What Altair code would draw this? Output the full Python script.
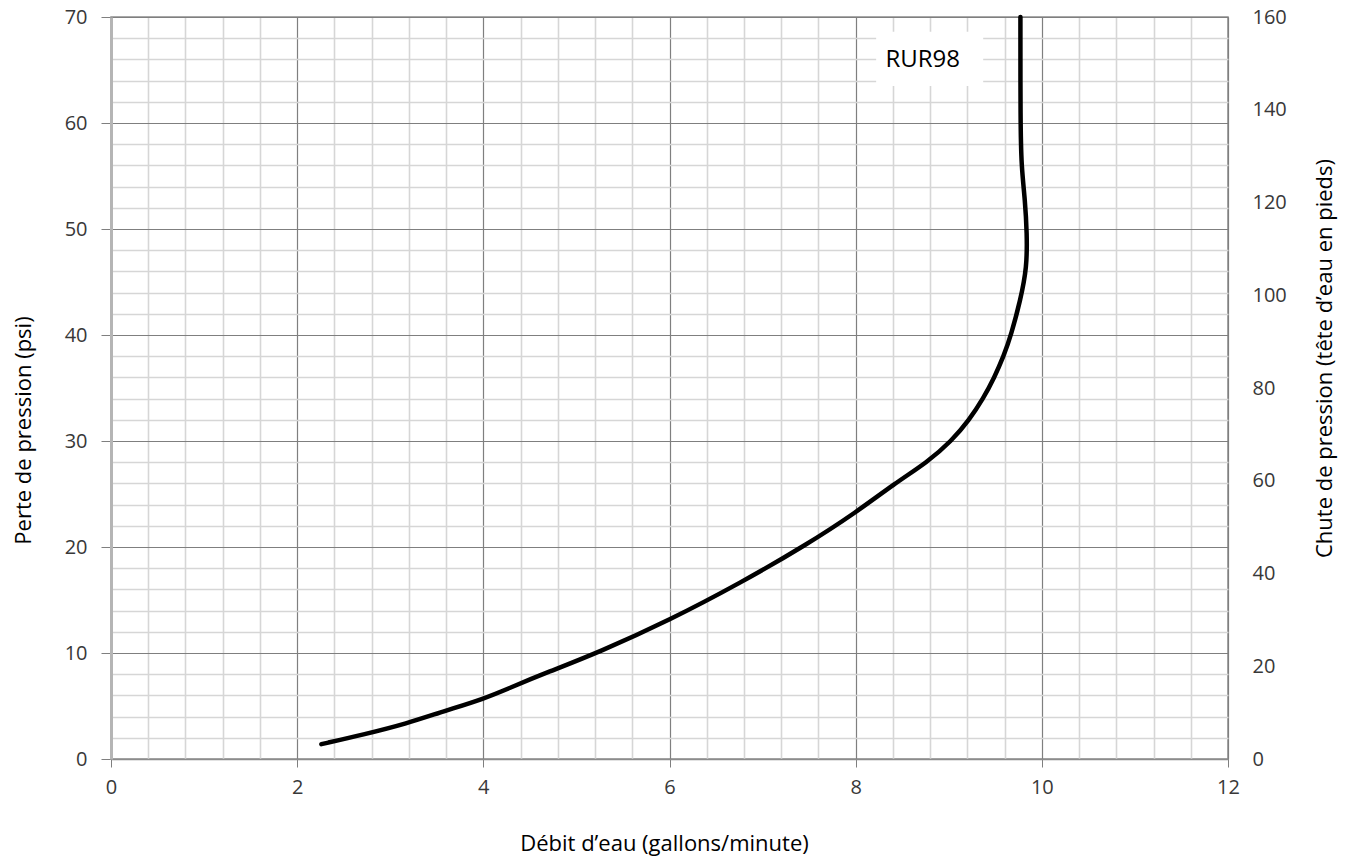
import altair as alt
import pandas as pd

# Curve (flow in gallons/minute vs pressure loss in psi)
flow_gpm = [2.26, 2.71, 3.18, 3.57, 4.0, 4.32, 4.68, 5.25, 6.0, 6.76, 7.47, 8.01,
            8.42, 8.77, 9.03, 9.22, 9.37, 9.49, 9.59, 9.67, 9.77, 9.84, 9.84, 9.82,
            9.78, 9.77, 9.77]
loss_psi = [1.4, 2.3, 3.35, 4.5, 5.65, 6.85, 8.15, 10.1, 13.1, 16.6, 20.2, 23.3,
            26.0, 28.0, 30.0, 32.0, 34.0, 36.0, 38.0, 40.0, 43.3, 46.4, 49.6, 52.7,
            55.9, 60.0, 70.0]

# Axis ticks
x_ticks = [round(i * 0.4, 1) for i in range(31)]      # 0 .. 12, minor every 0.4
y_ticks = list(range(0, 71, 2))                         # 0 .. 70, minor every 2
head_ticks = list(range(0, 161, 20))                    # right axis, feet of water

# Series label
label_text = ["RUR98"]
label_x = [8.72]
label_y = [65.9]
label_box_x = [8.22]
label_box_x2 = [9.37]
label_box_y = [63.5]
label_box_y2 = [68.6]

FONT = "Open Sans"
MAJOR = "#7f7f7f"
MINOR = "#d6d6d6"

curve = pd.DataFrame({"flow": flow_gpm, "psi": loss_psi, "idx": range(len(flow_gpm))})
lab = pd.DataFrame({"t": label_text, "flow": label_x, "psi": label_y,
                    "bx": label_box_x, "bx2": label_box_x2,
                    "by": label_box_y, "by2": label_box_y2})
right = pd.DataFrame({"ft": head_ticks})

x_major = "abs(datum.value - round(datum.value / 2) * 2) < 0.01"
y_major = "abs(datum.value - round(datum.value / 10) * 10) < 0.01"

x_scale = alt.Scale(domain=[0, 12], nice=False, zero=False)
y_scale = alt.Scale(domain=[0, 70], nice=False, zero=False)

x_enc = alt.X(
    "flow:Q",
    scale=x_scale,
    axis=alt.Axis(
        values=x_ticks, tickCount=200,
        labelExpr=f"{x_major} ? format(datum.value, 'd') : ''",
        labelFlush=False, labelOverlap=False,
        grid=True,
        gridColor={"condition": {"test": x_major, "value": MAJOR}, "value": MINOR},
        gridWidth={"condition": {"test": x_major, "value": 1.2}, "value": 1.6},
        tickSize={"condition": {"test": x_major, "value": 8}, "value": 0},
        tickColor=MAJOR, domainColor="#8c8c8c", domainWidth=1.5,
        labelFont=FONT, labelFontSize=20, labelColor="#383838", labelPadding=10,
        title="Débit d\u2019eau (gallons/minute)",
        titleFont=FONT, titleFontSize=22, titleFontWeight="normal", titleColor="#000000",
        titleX=553, titleY=84, titleBaseline="middle", titleAlign="center",
    ),
)

y_enc = alt.Y(
    "psi:Q",
    scale=y_scale,
    axis=alt.Axis(
        values=y_ticks, tickCount=200,
        labelExpr=f"{y_major} ? format(datum.value, 'd') : ''",
        labelOverlap=False, labelFlush=False,
        grid=True,
        gridColor={"condition": {"test": y_major, "value": MAJOR}, "value": MINOR},
        gridWidth={"condition": {"test": y_major, "value": 1.2}, "value": 1.6},
        tickSize={"condition": {"test": y_major, "value": 10}, "value": 0},
        tickColor=MAJOR, domainColor="#b5b5b5", domainWidth=3,
        labelFont=FONT, labelFontSize=20, labelColor="#383838", labelPadding=14,
        title="Perte de pression (psi)",
        titleFont=FONT, titleFontSize=22, titleFontWeight="normal", titleColor="#000000",
        titleX=-88, titleY=413, titleAngle=270, titleBaseline="middle", titleAlign="center",
    ),
)

line = alt.Chart(curve).mark_line(
    color="#000000", strokeWidth=4.5, interpolate="basis", strokeCap="round"
).encode(x=x_enc, y=y_enc, order="idx:Q")

box = alt.Chart(lab).mark_rect(color="#ffffff").encode(
    x=alt.X("bx:Q", scale=x_scale), x2="bx2",
    y=alt.Y("by:Q", scale=y_scale), y2="by2",
)
txt = alt.Chart(lab).mark_text(font=FONT, fontSize=24, color="#000000").encode(
    x=alt.X("flow:Q", scale=x_scale), y=alt.Y("psi:Q", scale=y_scale), text="t:N"
)

main = alt.layer(line, box, txt)

right_axis = alt.Chart(right).mark_point(opacity=0).encode(
    y=alt.Y(
        "ft:Q",
        scale=alt.Scale(domain=[0, 160], nice=False, zero=False),
        axis=alt.Axis(
            orient="right", values=head_ticks, tickCount=200, grid=False, ticks=False,
            tickSize=0, domain=False,
            labelFont=FONT, labelFontSize=20, labelColor="#383838", labelPadding=24,
            labelAlign="left",
            title="Chute de pression (t\u00eate d\u2019eau en pieds)",
            titleFont=FONT, titleFontSize=22, titleFontWeight="normal", titleColor="#000000",
            titleX=96, titleY=341, titleAngle=270, titleBaseline="middle", titleAlign="center",
        ),
    )
)

chart = (
    alt.layer(main, right_axis)
    .resolve_scale(y="independent")
    .properties(
        width=1117, height=742,
        autosize=alt.AutoSizeParams(type="none"),
        padding={"left": 103, "top": 9, "right": 110, "bottom": 100},
        background="#ffffff",
    )
    .configure_view(stroke="#8c8c8c", strokeWidth=1.5)
)

chart.save("out.html", embed_options={"renderer": "svg", "actions": False})
